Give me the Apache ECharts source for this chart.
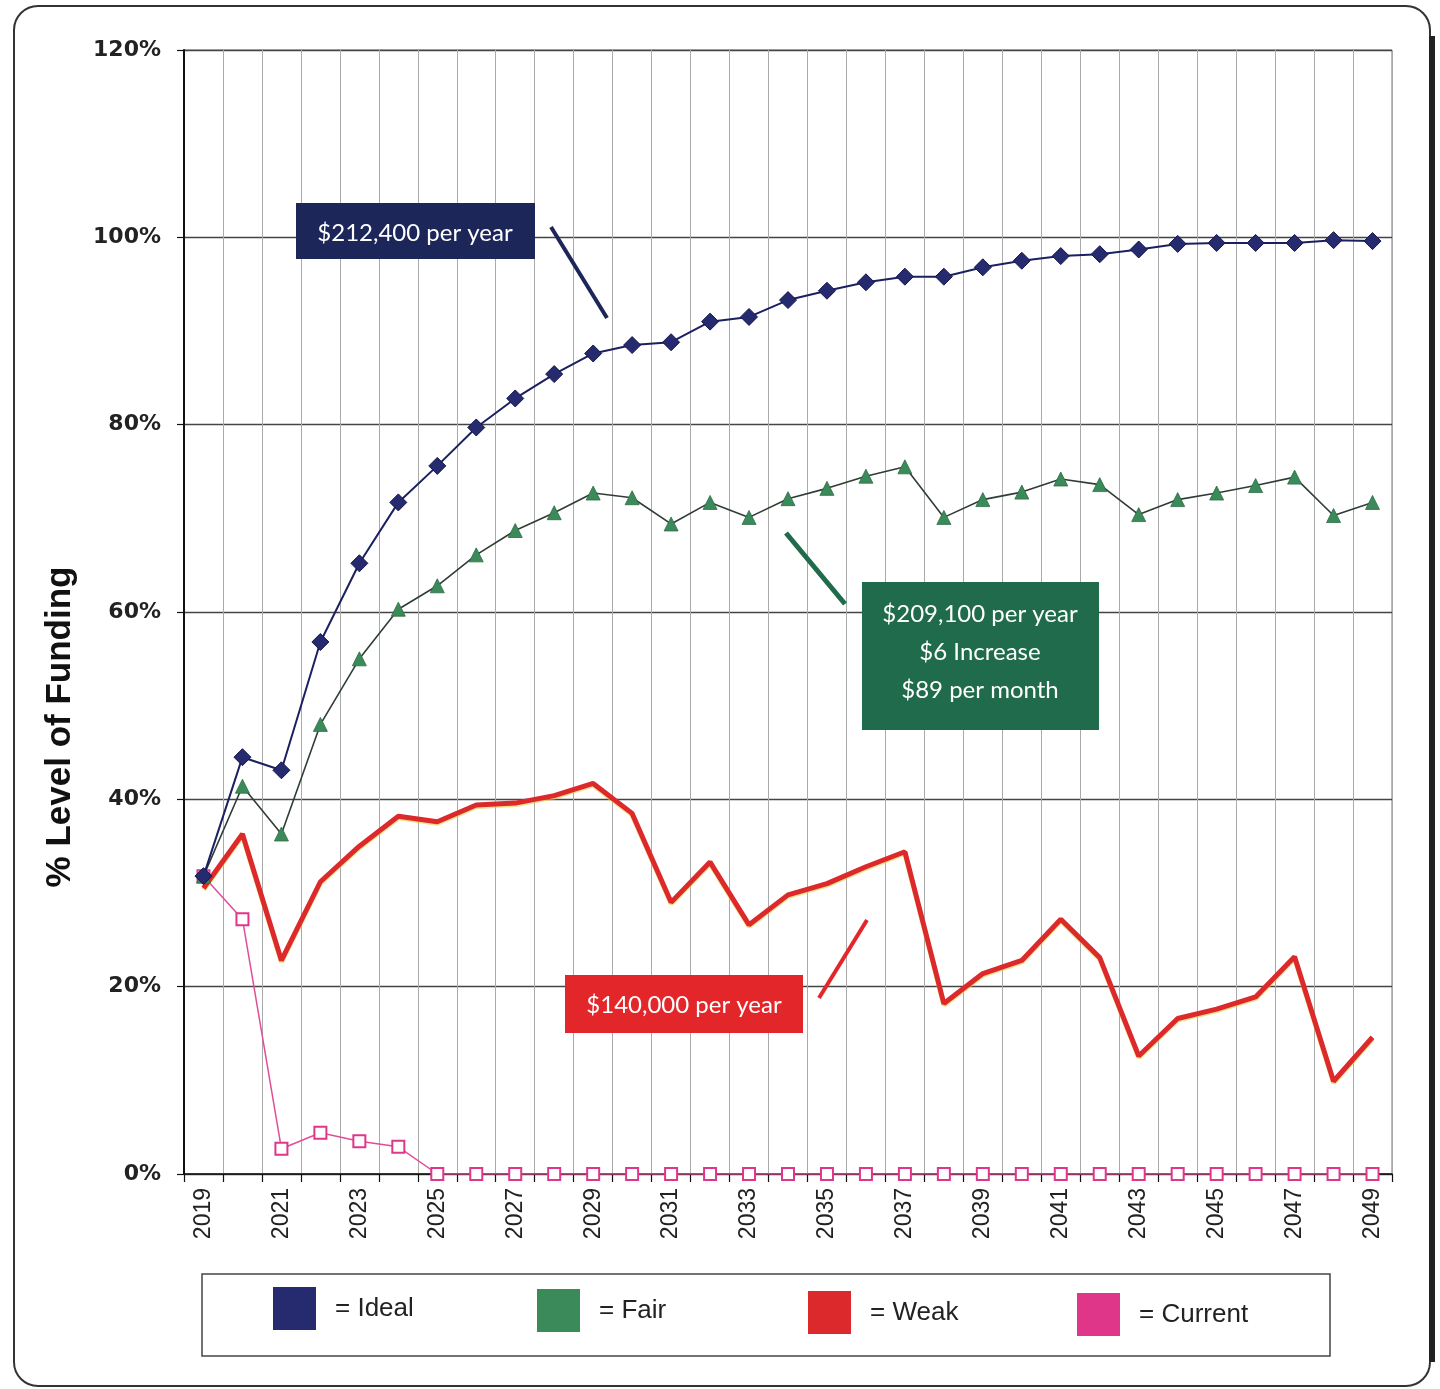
<!DOCTYPE html>
<html>
<head>
<meta charset="utf-8">
<script src="https://cdn.jsdelivr.net/npm/echarts@6/dist/echarts.min.js"></script>
<style>
html,body{margin:0;padding:0;background:#fff;}
#chart{width:1440px;height:1389px;}
</style>
</head>
<body>
<div id="chart"></div>
<script>
var years = ['2019','2020','2021','2022','2023','2024','2025','2026','2027','2028','2029','2030','2031','2032','2033','2034','2035','2036','2037','2038','2039','2040','2041','2042','2043','2044','2045','2046','2047','2048','2049'];
var idealValues = [31.8,44.5,43.1,56.8,65.2,71.7,75.6,79.7,82.8,85.4,87.6,88.5,88.8,91.0,91.5,93.3,94.3,95.2,95.8,95.8,96.8,97.5,98.0,98.2,98.7,99.3,99.4,99.4,99.4,99.7,99.6];
var fairValues = [31.8,41.4,36.3,48.0,55.0,60.3,62.8,66.1,68.7,70.6,72.7,72.2,69.4,71.7,70.1,72.1,73.2,74.5,75.5,70.1,72.0,72.8,74.2,73.6,70.4,72.0,72.7,73.5,74.4,70.3,71.7];
var weakValues = [30.5,36.3,22.8,31.2,35.0,38.2,37.6,39.4,39.6,40.4,41.7,38.5,29.0,33.3,26.6,29.8,31.0,32.8,34.4,18.2,21.4,22.8,27.2,23.1,12.6,16.6,17.6,18.9,23.2,9.9,14.6];
var currentValues = [31.8,27.2,2.7,4.4,3.5,2.9,0,0,0,0,0,0,0,0,0,0,0,0,0,0,0,0,0,0,0,0,0,0,0,0,0];
var yTicks = [0,20,40,60,80,100,120];
var seriesNames = ['Ideal','Fair','Weak','Current'];
var seriesColors = ['#262a6e','#3b8a5a','#dc2a2c','#e0368a'];
var annotationIdeal = ['$212,400 per year'];
var annotationFair = ['$209,100 per year','$6 Increase','$89 per month'];
var annotationWeak = ['$140,000 per year'];

var chart = echarts.init(document.getElementById('chart'), null, {renderer:'canvas'});

function legendFor(i, left, top){
  return {
    data:[{name:seriesNames[i], icon:'rect', itemStyle:{color:seriesColors[i], borderWidth:0}}],
    left:left, top:top, padding:0,
    itemWidth:43, itemHeight:43,
    formatter:'= {name}',
    selectedMode:false,
    textStyle:{fontFamily:'Liberation Sans, Arial, sans-serif', fontSize:26, color:'#222', padding:[2,0,0,14]}
  };
}

var option = {
  animation:false,
  backgroundColor:'#fff',
  grid:{left:184, right:48, top:50, bottom:215, show:true, borderColor:'#777', borderWidth:1},
  xAxis:{
    type:'category',
    data:years,
    boundaryGap:true,
    axisLine:{lineStyle:{color:'#111', width:1.5}},
    axisTick:{show:true, interval:0, length:8, lineStyle:{color:'#111', width:1.2}},
    axisLabel:{interval:1, rotate:90, margin:14, fontFamily:'Liberation Sans, Arial, sans-serif', fontSize:23, color:'#222'},
    splitLine:{show:true, interval:0, lineStyle:{color:'#aaa', width:1}}
  },
  yAxis:{
    type:'value',
    min:yTicks[0], max:yTicks[yTicks.length-1], interval:20,
    axisLine:{show:true, lineStyle:{color:'#111', width:2}},
    axisTick:{show:true, length:7, lineStyle:{color:'#111', width:1.2}},
    axisLabel:{formatter:'{value}%', margin:23, fontFamily:'DejaVu Sans, Verdana, sans-serif', fontWeight:'bold', fontSize:22, color:'#222'},
    splitLine:{show:true, lineStyle:{color:'#444', width:1.3}}
  },
  legend:[
    legendFor(0, 273, 1287),
    legendFor(1, 537, 1289),
    legendFor(2, 808, 1291),
    legendFor(3, 1077, 1293)
  ],
  series:[
    {name:'Current', type:'line', data:currentValues, z:2,
     symbol:'emptyRect', symbolSize:12, showAllSymbol:true,
     itemStyle:{color:seriesColors[3], borderWidth:1.5},
     lineStyle:{color:'#e24d98', width:1.5}},
    {name:'Weak', type:'line', data:weakValues, z:3,
     symbol:'none',
     itemStyle:{color:seriesColors[2]},
     lineStyle:{color:seriesColors[2], width:5, shadowColor:'rgba(240,200,40,0.55)', shadowBlur:0, shadowOffsetY:1.5}},
    {name:'Fair', type:'line', data:fairValues, z:4,
     symbol:'triangle', symbolSize:14, showAllSymbol:true,
     itemStyle:{color:seriesColors[1], borderColor:'#2e6b45', borderWidth:0.8},
     lineStyle:{color:'#2f3d35', width:1.6}},
    {name:'Ideal', type:'line', data:idealValues, z:5,
     symbol:'diamond', symbolSize:[17,17], showAllSymbol:true,
     itemStyle:{color:seriesColors[0], borderColor:'#15184a', borderWidth:1},
     lineStyle:{color:'#1b2060', width:2}}
  ],
  graphic:[
    {type:'rect', shape:{x:14, y:6, width:1416, height:1380, r:24}, style:{fill:'none', stroke:'#333', lineWidth:2}, z:-10, silent:true},
    {type:'line', shape:{x1:1432, y1:36, x2:1432, y2:1362}, style:{stroke:'#222', lineWidth:6}, silent:true},
    {type:'text', x:60, y:727, rotation:Math.PI/2, style:{text:'% Level of Funding', fill:'#111', font:'bold 35px "Liberation Sans", Arial, sans-serif', textAlign:'center', textVerticalAlign:'middle'}},
    {type:'rect', shape:{x:202, y:1274, width:1128, height:82}, style:{fill:'none', stroke:'#444', lineWidth:1.5}, silent:true},

    {type:'line', shape:{x1:551, y1:227, x2:607, y2:318}, style:{stroke:'#1d2658', lineWidth:4}, z:20},
    {type:'rect', shape:{x:296, y:203, width:239, height:56}, style:{fill:'#1d2658'}, z:20},
    {type:'text', x:415, y:233, style:{text:annotationIdeal[0], fill:'#fff', font:'24px Lato, "Open Sans", sans-serif', textAlign:'center', textVerticalAlign:'middle'}, z:21},

    {type:'line', shape:{x1:786, y1:533, x2:845, y2:604}, style:{stroke:'#1f6b4b', lineWidth:5}, z:20},
    {type:'rect', shape:{x:862, y:582, width:237, height:148}, style:{fill:'#1f6b4b'}, z:20},
    {type:'text', x:980, y:614, style:{text:annotationFair[0], fill:'#fff', font:'24px Lato, "Open Sans", sans-serif', textAlign:'center', textVerticalAlign:'middle'}, z:21},
    {type:'text', x:980, y:652, style:{text:annotationFair[1], fill:'#fff', font:'24px Lato, "Open Sans", sans-serif', textAlign:'center', textVerticalAlign:'middle'}, z:21},
    {type:'text', x:980, y:690, style:{text:annotationFair[2], fill:'#fff', font:'24px Lato, "Open Sans", sans-serif', textAlign:'center', textVerticalAlign:'middle'}, z:21},

    {type:'line', shape:{x1:819, y1:998, x2:867, y2:920}, style:{stroke:'#e3262a', lineWidth:4}, z:20},
    {type:'rect', shape:{x:565, y:975, width:238, height:58}, style:{fill:'#e3262a'}, z:20},
    {type:'text', x:684, y:1005, style:{text:annotationWeak[0], fill:'#fff', font:'24px Lato, "Open Sans", sans-serif', textAlign:'center', textVerticalAlign:'middle'}, z:21}
  ]
};
chart.setOption(option);
</script>
</body>
</html>
